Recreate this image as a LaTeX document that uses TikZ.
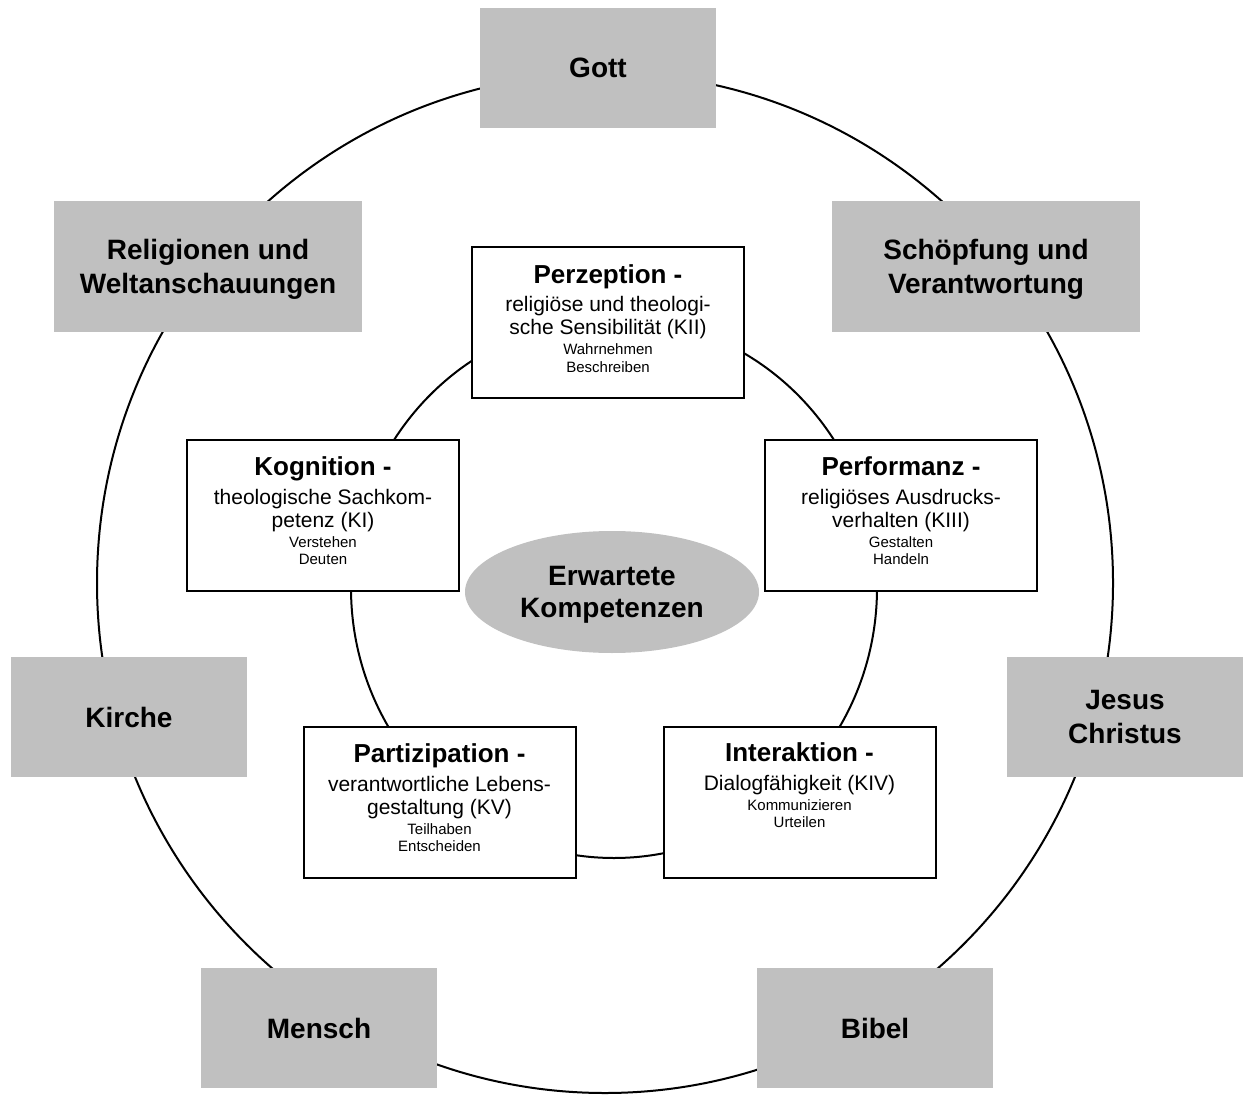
\documentclass[tikz,border=0pt]{standalone}
\usepackage{fontspec}
\setmainfont{Liberation Sans}
\usetikzlibrary{shapes.geometric}
\definecolor{boxgray}{RGB}{192,192,192}
\tikzset{theme/.style={fill=boxgray, align=center, inner sep=0pt, text depth=0pt,
    minimum width=118pt, minimum height=60pt, font=\fontsize{14}{17}\selectfont\bfseries},
  komp/.style={draw, line width=1pt, fill=white, align=center, inner sep=0pt,
    minimum width=136pt, minimum height=75.5pt, text depth=4.5pt,
    font=\fontsize{10.5}{11.5}\selectfont}}
\newcommand{\ktitle}[1]{{\fontsize{13}{15}\selectfont\bfseries #1}}
\newcommand{\ksmall}[1]{{\fontsize{7.5}{9}\selectfont #1}}

\begin{document}
\begin{tikzpicture}[x=0.5pt, y=-0.5pt]
\useasboundingbox (0,0) rectangle (1245,1095);
% the two rings
\draw[line width=1pt] (605,583) ellipse [x radius=254pt, y radius=255pt];
\draw[line width=1pt] (614,588) ellipse [x radius=131.5pt, y radius=135pt];
% themes on the outer ring
\node[theme] (gott) at (598,68) {Gott};
\node[theme, minimum width=154pt, minimum height=65.5pt] (relig) at (208,266.5) {Religionen und\\Weltanschauungen};
\node[theme, minimum width=154pt, minimum height=65.5pt] (schoepf) at (986,266.5) {Schöpfung und\\Verantwortung};
\node[theme] (kirche) at (129,717) {Kirche};
\node[theme] (jesus) at (1125,717) {Jesus\\Christus};
\node[theme] (mensch) at (319,1028) {Mensch};
\node[theme] (bibel) at (875,1028) {Bibel};
% competences on the inner ring
\node[komp] (perz) at (608,323) {\ktitle{Perzeption -}\\[2.75pt]
  religiöse und theologi-\\sche Sensibilität (KII)\\[-1.5pt]
  \ksmall{Wahrnehmen}\\[-2.75pt]\ksmall{Beschreiben}};
\node[komp] (kogn) at (323,515.5) {\ktitle{Kognition -}\\[2.75pt]
  theologische Sachkom-\\petenz (KI)\\[-1.5pt]
  \ksmall{Verstehen}\\[-2.75pt]\ksmall{Deuten}};
\node[komp] (perf) at (901,515.5) {\ktitle{Performanz -}\\[2.75pt]
  religiöses Ausdrucks-\\verhalten (KIII)\\[-1.5pt]
  \ksmall{Gestalten}\\[-2.75pt]\ksmall{Handeln}};
\node[komp] (parti) at (439.5,802.5) {\ktitle{Partizipation -}\\[2.75pt]
  verantwortliche Lebens-\\gestaltung (KV)\\[-1.5pt]
  \ksmall{Teilhaben}\\[-2.75pt]\ksmall{Entscheiden}};
\node[komp, text depth=17pt] (inter) at (799.5,802.5) {\ktitle{Interaktion -}\\[2.75pt]
  Dialogfähigkeit (KIV)\\[-1.5pt]
  \ksmall{Kommunizieren}\\[-2.75pt]\ksmall{Urteilen}};
% centre
\node[ellipse, fill=boxgray, inner sep=0pt, minimum width=147pt, minimum height=61pt,
  align=center, text depth=0pt, font=\fontsize{14}{16}\selectfont\bfseries] (erw) at (612,592) {Erwartete\\Kompetenzen};
\end{tikzpicture}
\end{document}
